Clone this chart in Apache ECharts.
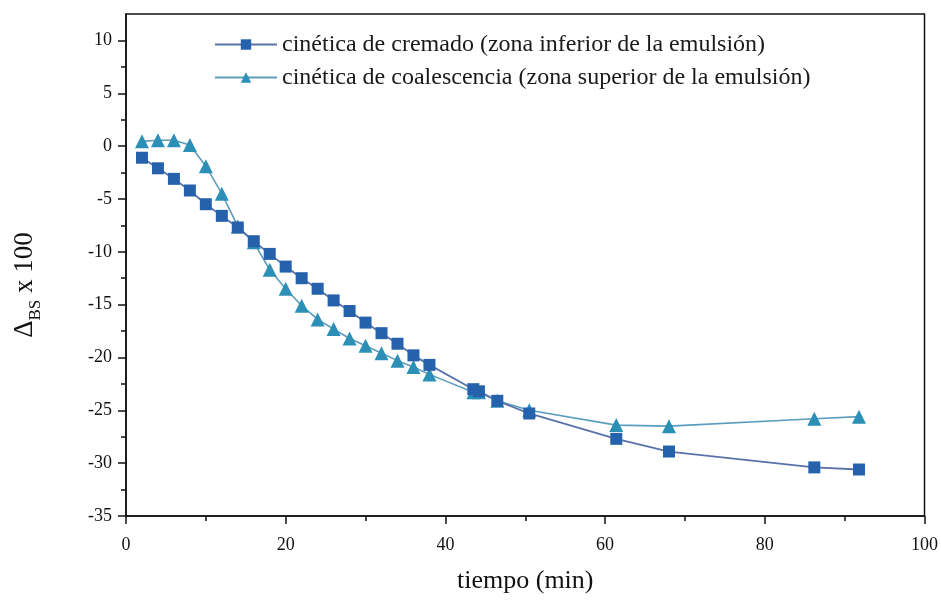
<!DOCTYPE html>
<html>
<head>
<meta charset="utf-8">
<script src="https://cdn.jsdelivr.net/npm/echarts@6/dist/echarts.min.js"></script>
<style>
  html, body { margin: 0; padding: 0; background: #fff; }
  #chart { width: 941px; height: 600px; }
</style>
</head>
<body>
<div id="chart"></div>
<script>
// Time (min) and ΔBS x 100 for each kinetic curve
const creamTime = [2, 4, 6, 8, 10, 12, 14, 16, 18, 20, 22, 24, 26, 28, 30, 32, 34, 36, 38, 43.5, 44.2, 46.5, 50.5, 61.4, 68, 86.2, 91.8];
const creamValues = [-1.1, -2.1, -3.1, -4.2, -5.5, -6.6, -7.7, -9.0, -10.2, -11.4, -12.5, -13.5, -14.6, -15.6, -16.7, -17.7, -18.7, -19.8, -20.7, -23.0, -23.2, -24.1, -25.3, -27.7, -28.9, -30.4, -30.6];
const coalTime = [2, 4, 6, 8, 10, 12, 14, 16, 18, 20, 22, 24, 26, 28, 30, 32, 34, 36, 38, 43.5, 44.2, 46.5, 50.5, 61.4, 68, 86.2, 91.8];
const coalValues = [0.45, 0.55, 0.55, 0.1, -1.9, -4.5, -7.6, -9.1, -11.7, -13.5, -15.1, -16.4, -17.3, -18.2, -18.9, -19.6, -20.3, -20.9, -21.6, -23.3, -23.3, -24.1, -25.0, -26.4, -26.5, -25.8, -25.6];

const seriesNames = [
  'cinética de cremado (zona inferior de la emulsión)',
  'cinética de coalescencia (zona superior de la emulsión)'
];
const yMajorTicks = [-35, -30, -25, -20, -15, -10, -5, 0, 5, 10];
const yMinorTicks = [-32.5, -27.5, -22.5, -17.5, -12.5, -7.5, -2.5, 2.5, 7.5];

const pair = (xs, ys) => xs.map((x, i) => [x, ys[i]]);
const serif = '"Liberation Serif", "DejaVu Serif", serif';

const chart = echarts.init(document.getElementById('chart'), null, { renderer: 'canvas' });
chart.setOption({
  animation: false,
  backgroundColor: '#ffffff',
  textStyle: { fontFamily: serif },
  grid: {
    left: 126, right: 15, top: 14, bottom: 84,
    show: true, borderColor: '#111', borderWidth: 1.5
  },
  legend: {
    orient: 'vertical',
    left: 209, top: 27,
    itemWidth: 62, itemHeight: 13,
    itemGap: 8,
    textStyle: { fontFamily: serif, fontSize: 24, color: '#1a1a1a', lineHeight: 25, padding: [0, 0, 0, 0] },
    data: seriesNames
  },
  xAxis: {
    type: 'value',
    min: 0, max: 100, interval: 20,
    name: 'tiempo (min)',
    nameLocation: 'middle',
    nameGap: 52,
    nameTextStyle: { fontFamily: serif, fontSize: 26, color: '#111' },
    axisLine: { onZero: false, lineStyle: { color: '#111', width: 1.5 } },
    axisTick: { length: 8, lineStyle: { color: '#111', width: 1.5 } },
    minorTick: { show: true, splitNumber: 2, length: 5, lineStyle: { color: '#111', width: 1.5 } },
    axisLabel: { fontFamily: serif, fontSize: 18, color: '#111', margin: 20 },
    splitLine: { show: false }
  },
  yAxis: [
    {
      type: 'value',
      min: -35, max: 12.5,
      name: '{d|Δ}{s|BS}{d| x 100}',
      nameLocation: 'middle',
      nameRotate: 90,
      nameGap: 82,
      nameTextStyle: {
        padding: [0, 40, 0, 0],
        rich: {
          d: { fontFamily: serif, fontSize: 27, color: '#111', lineHeight: 38 },
          s: { fontFamily: serif, fontSize: 17, color: '#111', lineHeight: 17, verticalAlign: 'bottom' }
        }
      },
      axisLine: { onZero: false, lineStyle: { color: '#111', width: 1.5 } },
      axisTick: { customValues: yMajorTicks, length: 8, lineStyle: { color: '#111', width: 1.5 } },
      axisLabel: { customValues: yMajorTicks, fontFamily: serif, fontSize: 18, color: '#111', margin: 14 },
      splitLine: { show: false }
    },
    {
      type: 'value',
      min: -35, max: 12.5,
      position: 'left',
      axisLine: { show: false },
      axisTick: { customValues: yMinorTicks, length: 5, lineStyle: { color: '#111', width: 1.5 } },
      axisLabel: { show: false },
      splitLine: { show: false }
    }
  ],
  series: [
    {
      name: seriesNames[0],
      type: 'line',
      yAxisIndex: 0,
      data: pair(creamTime, creamValues),
      symbol: 'rect',
      symbolSize: 12,
      itemStyle: { color: '#2662ab' },
      lineStyle: { color: '#5872a8', width: 1.8 },
      z: 3
    },
    {
      name: seriesNames[1],
      type: 'line',
      yAxisIndex: 0,
      data: pair(coalTime, coalValues),
      symbol: 'triangle',
      symbolSize: 14,
      itemStyle: { color: '#2c8fb6' },
      lineStyle: { color: '#5c9dbd', width: 1.6 },
      z: 2
    }
  ]
});
</script>
</body>
</html>
